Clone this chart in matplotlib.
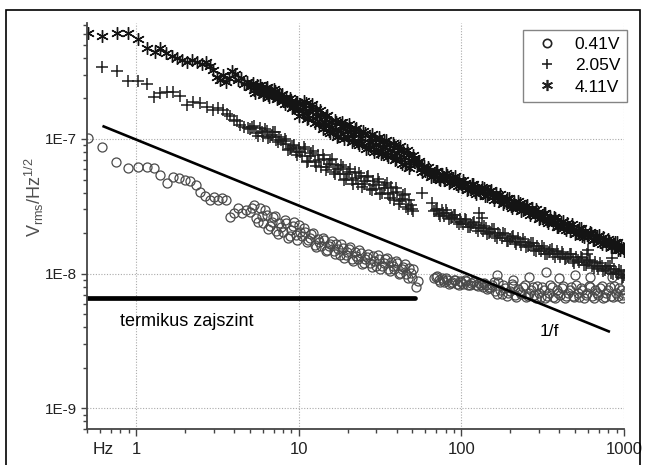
import matplotlib
matplotlib.use("Agg")
import matplotlib.pyplot as plt
import numpy as np
from matplotlib.lines import Line2D
from matplotlib.ticker import FixedLocator, FixedFormatter, LogLocator, NullFormatter

plt.rcParams["font.family"] = ["Liberation Sans", "DejaVu Sans"]
plt.rcParams["mathtext.fontset"] = "custom"
plt.rcParams["mathtext.rm"] = "Liberation Sans"
plt.rcParams["mathtext.it"] = "Liberation Sans:italic"

# noise spectra, frequency in Hz, amplitude in units of 1e-8 V/Hz^1/2
f_041 = [0.505, 0.62, 0.75, 0.89, 1.02, 1.17, 1.29, 1.40, 1.55, 1.68, 1.83, 1.99, 2.14, 2.33,
         2.47, 2.64, 2.84, 3.0, 3.18, 3.37, 3.56, 3.77, 3.99, 4.21, 4.46, 4.72,
         5.0, 5.3, 5.6, 5.9, 6.2, 6.5, 6.8, 7.1, 7.4, 7.8, 8.2, 8.6, 9.0, 9.4, 9.8,
         10.2, 10.7, 11.2, 11.7, 12.2, 12.8, 13.4, 14, 14.6, 15.3, 16, 16.7, 17.4, 18.2,
         19, 19.8, 20.7, 21.6, 22.6, 23.6, 24.6, 25.7, 26.8, 28, 29.2, 30.5, 31.8, 33.2,
         34.7, 36.2, 37.8, 39.4, 41.1, 42.9, 44.8, 46.7, 48.7, 50.5, 52.5, 54,
         68, 71, 74, 77, 80, 84, 88, 92, 96, 100, 105, 110, 115, 120, 126, 132, 138, 144,
         151, 158, 165, 173, 181, 190, 199, 208, 218, 228, 239, 250, 262, 274, 287, 300,
         314, 329, 344, 360, 377, 395, 413, 432, 452, 473, 495, 518, 542, 567, 594, 621,
         650, 680, 712, 745, 780, 816, 854, 894, 935, 978, 1000,
         165, 208, 262, 330, 400, 500, 620, 850]
v_041 = [10.2, 8.77, 6.78, 6.12, 6.2, 6.2, 6.12, 5.43, 4.73, 5.25, 5.15, 4.99, 4.84, 4.58,
         4.06, 3.79, 3.54, 3.7, 3.54, 3.65, 3.54, 2.64, 2.83, 3.08, 2.83, 2.99,
         2.87, 3.24, 2.41, 2.70, 2.97, 2.15, 2.40, 2.68, 1.97, 2.21, 2.50, 1.85, 2.11, 2.40, 1.79,
         2.04, 2.19, 1.72, 1.85, 1.99, 1.58, 1.71, 1.85, 1.48, 1.61, 1.75, 1.40, 1.52, 1.65,
         1.31, 1.44, 1.57, 1.25, 1.36, 1.49, 1.18, 1.29, 1.41, 1.13, 1.245, 1.37, 1.09, 1.195,
         1.31, 1.05, 1.15, 1.25, 1.00, 1.09, 1.18, 0.936, 1.02, 1.08, 0.80, 0.88,
         0.930, 0.957, 0.874, 0.900, 0.926, 0.837, 0.868, 0.900, 0.828, 0.861, 0.893, 0.823,
         0.855, 0.881, 0.804, 0.827, 0.850, 0.775, 0.796, 0.861, 0.708, 0.757, 0.827, 0.687,
         0.742, 0.812, 0.675, 0.732, 0.801, 0.666, 0.720, 0.792, 0.662, 0.715, 0.790, 0.665,
         0.722, 0.795, 0.660, 0.718, 0.788, 0.664, 0.716, 0.794, 0.668, 0.721, 0.789, 0.662,
         0.718, 0.792, 0.665, 0.714, 0.786, 0.660, 0.719, 0.793, 0.666, 0.722, 0.788, 0.664,
         0.715,
         0.98, 0.90, 0.95, 1.03, 0.93, 0.98, 0.95, 0.95]
# in-between sweep points of the same run
f_041_b = [5.15, 5.45, 5.75, 6.05, 6.35, 6.65, 6.95, 7.25, 7.6, 8.0, 8.4, 8.8, 9.2, 9.6, 10.0,
           10.45, 10.95, 11.45, 11.95, 12.5, 13.1, 13.7, 14.3, 14.95, 15.65, 16.35, 17.05,
           17.8, 18.6, 19.4, 20.25, 21.15, 22.1, 23.1, 24.1, 25.15, 26.25, 27.4, 28.6, 29.85,
           31.15, 32.5, 33.95, 35.45, 37.0, 38.6, 40.25, 42.0, 43.85, 45.75, 47.7, 49.6,
           69.5, 72.5, 75.5, 78.5, 82, 86, 90, 94, 98, 102.5, 107.5, 112.5, 117.5, 123, 129,
           135, 141, 147.5, 154.5, 161.5, 169, 177, 185.5, 194.5, 203.5, 213, 223, 233.5,
           244.5, 256, 268, 280.5, 293.5, 307, 321.5, 336.5, 352, 368.5, 386, 404, 422.5,
           442, 462.5, 484, 506.5, 530, 554.5, 580.5, 607.5, 635.5, 665, 696, 728.5, 762.5,
           798, 835, 874, 914.5, 956.5, 990]
v_041_b = [3.05, 2.60, 3.05, 2.39, 2.71, 2.25, 2.62, 2.07, 2.39, 2.04, 2.39, 1.91, 2.25, 1.93,
           2.28, 1.90, 2.04, 1.79, 1.97, 1.63, 1.82, 1.61, 1.79, 1.49, 1.67, 1.48, 1.65, 1.38,
           1.55, 1.38, 1.53, 1.29, 1.44, 1.28, 1.43, 1.20, 1.34, 1.20, 1.35, 1.14, 1.28, 1.14,
           1.29, 1.08, 1.22, 1.08, 1.21, 1.01, 1.13, 1.00, 1.11, 0.93,
           0.949, 0.902, 0.937, 0.873, 0.903, 0.853, 0.894, 0.839, 0.879, 0.843, 0.884, 0.830,
           0.869, 0.826, 0.857, 0.797, 0.828, 0.786, 0.830, 0.746, 0.862, 0.710, 0.788, 0.715,
           0.837, 0.693, 0.771, 0.701, 0.822, 0.681, 0.756, 0.691, 0.814, 0.677, 0.752, 0.688,
           0.820, 0.672, 0.760, 0.695, 0.808, 0.680, 0.751, 0.686, 0.818, 0.674, 0.761, 0.690,
           0.811, 0.679, 0.754, 0.693, 0.816, 0.671, 0.758, 0.684, 0.812, 0.678, 0.755, 0.692]

f_205 = [0.62, 0.76, 0.89, 1.02, 1.17, 1.29, 1.40, 1.55, 1.68, 1.86, 2.05, 2.23, 2.47, 2.71,
         2.96, 3.18, 3.41, 3.62, 3.77, 3.99, 4.17, 4.34, 4.60, 4.87,
         5.0, 5.3, 5.6, 5.9, 6.2, 6.5, 6.8, 7.1, 7.4, 7.8, 8.2, 8.6, 9.0, 9.4, 9.8,
         10.2, 10.7, 11.2, 11.7, 12.2, 12.8, 13.4, 14, 14.6, 15.3, 16, 16.7, 17.4, 18.2,
         19, 19.8, 20.7, 21.6, 22.6, 23.6, 24.6, 25.7, 26.8, 28, 29.2, 30.5, 31.8, 33.2,
         34.7, 36.2, 37.8, 39.4, 41.1, 42.9, 44.8, 46.7, 48.7, 50.5, 57, 66,
         68, 71, 74, 77, 80, 84, 88, 92, 96, 100, 105, 110, 115, 120, 126, 132, 138, 144,
         151, 158, 165, 173, 181, 190, 199, 208, 218, 228, 239, 250, 262, 274, 287, 300,
         314, 329, 344, 360, 377, 395, 413, 432, 452, 473, 495, 518, 542, 567, 594, 621,
         650, 680, 712, 745, 780, 816, 854, 894, 935, 978, 1000,
         129, 133, 590, 600, 850]
v_205 = [34.5, 31.7, 27.1, 27.1, 25.8, 20.6, 22.1, 22.4, 22.4, 21.0, 18.0, 18.9, 18.6, 17.4,
         16.5, 17.1, 16.5, 15.4, 14.7, 13.9, 13.5, 12.8, 12.3, 12.1,
         11.9, 12.5, 10.6, 11.2, 11.8, 10.1, 10.7, 11.2, 9.53, 9.75, 10.0, 8.32, 8.61, 8.97, 7.59,
         8.0, 8.74, 6.78, 7.47, 8.21, 6.35, 6.95, 7.59, 5.92, 6.48, 7.09, 5.46, 5.97, 6.46,
         4.98, 5.46, 5.99, 4.67, 5.13, 5.63, 4.40, 4.84, 5.32, 4.15, 4.56, 5.01, 3.92, 4.31,
         4.73, 3.63, 3.96, 4.31, 3.31, 3.60, 3.90, 3.00, 3.26, 2.94, 3.99, 3.36,
         2.90, 3.04, 2.67, 2.81, 2.95, 2.55, 2.64, 2.72, 2.35, 2.43, 2.53, 2.21, 2.31, 2.41,
         2.09, 2.18, 2.27, 1.96, 2.05, 2.13, 1.85, 1.93, 2.01, 1.75, 1.82, 1.90, 1.65, 1.73,
         1.80, 1.57, 1.63, 1.70, 1.47, 1.53, 1.60, 1.39, 1.46, 1.53, 1.33, 1.40, 1.46, 1.28,
         1.34, 1.39, 1.21, 1.27, 1.33, 1.16, 1.20, 1.26, 1.10, 1.15, 1.20, 1.05, 1.095, 1.14,
         0.99, 1.035, 1.07, 0.93, 0.98,
         2.8, 2.6, 1.4, 1.5, 1.3]
f_205_b = [5.15, 5.45, 5.75, 6.05, 6.35, 6.65, 6.95, 7.25, 7.6, 8.0, 8.4, 8.8, 9.2, 9.6, 10.0,
           10.45, 10.95, 11.45, 11.95, 12.5, 13.1, 13.7, 14.3, 14.95, 15.65, 16.35, 17.05,
           17.8, 18.6, 19.4, 20.25, 21.15, 22.1, 23.1, 24.1, 25.15, 26.25, 27.4, 28.6, 29.85,
           31.15, 32.5, 33.95, 35.45, 37.0, 38.6, 40.25, 42.0, 43.85, 45.75, 47.7, 49.6,
           69.5, 72.5, 75.5, 78.5, 82, 86, 90, 94, 98, 102.5, 107.5, 112.5, 117.5, 123, 129,
           135, 141, 147.5, 154.5, 161.5, 169, 177, 185.5, 194.5, 203.5, 213, 223, 233.5,
           244.5, 256, 268, 280.5, 293.5, 307, 321.5, 336.5, 352, 368.5, 386, 404, 422.5,
           442, 462.5, 484, 506.5, 530, 554.5, 580.5, 607.5, 635.5, 665, 696, 728.5, 762.5,
           798, 835, 874, 914.5, 956.5, 990]
v_205_b = [12.3, 11.0, 12.0, 10.5, 11.4, 10.4, 11.2, 9.88, 10.4, 9.17, 9.70, 8.36, 8.84, 7.94,
           8.53, 7.43, 8.39, 6.87, 7.84, 6.80, 7.67, 6.24, 7.12, 6.17, 6.98, 5.67, 6.41, 5.52,
           6.21, 5.03, 5.73, 4.98, 5.66, 4.62, 5.29, 4.60, 5.23, 4.29, 4.89, 4.24, 4.83, 3.96,
           4.53, 3.92, 4.38, 3.55, 4.01, 3.44, 3.86, 3.12, 3.51, 3.02,
           2.98, 2.76, 2.96, 2.66, 2.82, 2.59, 2.73, 2.42, 2.53, 2.34, 2.49, 2.23, 2.36, 2.18,
           2.31, 2.06, 2.18, 2.01, 2.13, 1.90, 2.01, 1.85, 1.97, 1.76, 1.86, 1.72, 1.83, 1.64,
           1.73, 1.60, 1.69, 1.51, 1.60, 1.47, 1.56, 1.40, 1.49, 1.39, 1.48, 1.34, 1.41, 1.31,
           1.40, 1.24, 1.32, 1.22, 1.30, 1.17, 1.24, 1.14, 1.22, 1.09, 1.15, 1.07, 1.14, 1.02,
           1.08, 0.99, 1.05, 0.94]

f_411 = [0.505, 0.62, 0.76, 0.89, 1.02, 1.17, 1.30, 1.40, 1.52, 1.66, 1.78, 1.91, 2.05, 2.19,
         2.36, 2.53, 2.68, 2.83, 2.95, 3.13, 3.27, 3.41, 3.56, 3.72, 3.88, 4.04, 4.21, 4.40,
         4.58, 4.78,
         5.0, 5.2, 5.4, 5.6, 5.8, 6.0, 6.2, 6.4, 6.6, 6.8, 7.0, 7.3, 7.6, 7.9, 8.2, 8.5, 8.8,
         9.1, 9.4, 9.7, 10, 10.4, 10.8, 11.2, 11.6, 12, 12.5, 13, 13.5, 14, 14.5, 15, 15.5,
         16, 16.6, 17.2, 17.8, 18.4, 19, 19.7, 20.4, 21.1, 21.8, 22.6, 23.4, 24.2, 25, 26,
         27, 28, 29, 30, 31, 32, 33, 34.2, 35.4, 36.6, 37.8, 39, 40.4, 41.8, 43.2, 44.6, 46,
         47.6, 49.2, 51,
         53, 55, 57.5, 60, 62.5, 65, 68, 71, 74, 77, 80, 83.5, 87, 91, 95, 99, 103, 108, 113,
         118, 123, 128, 134, 140, 146, 152, 159, 166, 173, 180, 188, 196, 205, 214, 223, 233,
         243, 254, 265, 276, 288, 300, 313, 327, 341, 356, 371, 387, 404, 421, 439, 458, 478,
         499, 520, 543, 566, 591, 616, 643, 671, 700, 730, 762, 795, 829, 865, 902, 941, 980]
v_411 = [61.7, 58.6, 60.7, 60.7, 55.7, 47.7, 44.6, 47.7, 43.8, 41.6, 40.2, 38.8, 37.6, 38.8,
         37.6, 36.3, 37.6, 35.1, 32.7, 29.0, 27.6, 30.0, 26.7, 28.6, 31.7, 30.6, 27.6, 28.6,
         25.8, 26.7,
         24.5, 26.1, 22.1, 23.5, 25.1, 21.3, 22.7, 24.3, 20.6, 22.0, 23.4, 19.8, 20.9, 21.6,
         18.1, 19.2, 20.2, 17.0, 17.8, 18.8, 14.9, 16.8, 19.0, 14.1, 16.0, 18.1, 13.2, 14.7,
         16.3, 11.9, 13.4, 15.0, 11.0, 12.3, 13.9, 10.4, 11.7, 13.3, 10.0, 11.4, 12.9, 9.57,
         10.8, 12.1, 8.96, 10.1, 11.4, 8.44, 9.55, 10.8, 8.0, 9.07, 10.3, 7.68, 8.71, 9.87,
         7.33, 8.29, 9.37, 6.96, 7.86, 8.83, 6.53, 7.31, 8.22, 6.09, 6.85, 7.24,
         6.55, 6.91, 5.67, 5.81, 6.17, 5.23, 5.51, 5.83, 4.94, 5.23, 5.56, 4.71, 4.97, 5.27,
         4.44, 4.67, 4.97, 4.18, 4.39, 4.64, 3.93, 4.17, 4.42, 3.75, 3.96, 4.21, 3.54, 3.72,
         3.93, 3.31, 3.48, 3.67, 3.09, 3.26, 3.46, 2.91, 3.07, 3.25, 2.73, 2.87, 3.02, 2.55,
         2.68, 2.83, 2.38, 2.50, 2.64, 2.22, 2.33, 2.48, 2.10, 2.22, 2.34, 1.97, 2.08, 2.20,
         1.86, 1.95, 2.04, 1.78, 1.85, 1.93, 1.67, 1.74, 1.80, 1.57, 1.64, 1.71, 1.49, 1.55]
f_411_b = [5.1, 5.3, 5.5, 5.7, 5.9, 6.1, 6.3, 6.5, 6.7, 6.9, 7.15, 7.45, 7.75, 8.05, 8.35, 8.65,
           8.95, 9.25, 9.55, 9.85, 10.2, 10.6, 11.0, 11.4, 11.8, 12.25, 12.75, 13.25, 13.75,
           14.25, 14.75, 15.25, 15.75, 16.3, 16.9, 17.5, 18.1, 18.7, 19.35, 20.05, 20.75,
           21.45, 22.2, 23.0, 23.8, 24.6, 25.5, 26.5, 27.5, 28.5, 29.5, 30.5, 31.5, 32.5,
           33.6, 34.8, 36.0, 37.2, 38.4, 39.7, 41.1, 42.5, 43.9, 45.3, 46.8, 48.4, 50.1,
           54, 56.2, 58.7, 61.2, 63.7, 66.5, 69.5, 72.5, 75.5, 78.5, 81.7, 85.2, 89, 93, 97,
           101, 105.5, 110.5, 115.5, 120.5, 125.5, 131, 137, 143, 149, 155.5, 162.5, 169.5,
           176.5, 184, 192, 200.5, 209.5, 218.5, 228, 238, 248.5, 259.5, 270.5, 282, 294,
           306.5, 320, 334, 348.5, 363.5, 379, 395.5, 412.5, 430, 448.5, 468, 488.5, 509.5,
           531.5, 554.5, 578.5, 603.5, 629.5, 657, 685.5, 715, 746, 778.5, 812, 847, 883.5,
           921.5, 960.5, 995]
v_411_b = [25.3, 23.0, 25.1, 22.2, 24.0, 21.9, 24.0, 21.3, 23.0, 21.0, 22.8, 20.0, 21.3, 19.0,
           20.6, 18.1, 19.2, 17.4, 18.7, 16.4, 18.2, 15.5, 18.4, 14.3, 17.0, 14.4, 16.8, 12.9,
           15.0, 12.6, 14.8, 11.4, 13.4, 11.3, 13.4, 10.5, 12.5, 10.8, 12.8, 10.1, 11.9, 10.1,
           11.9, 9.26, 10.9, 9.30, 11.0, 8.57, 10.1, 8.65, 10.2, 8.01, 9.51, 8.16, 9.68, 7.57,
           8.95, 7.64, 9.05, 7.06, 8.31, 7.06, 8.30, 6.43, 7.58, 6.44, 7.59,
           6.73, 6.03, 6.31, 5.48, 5.90, 5.35, 5.78, 5.09, 5.49, 4.98, 5.42, 4.77, 5.13, 4.64,
           5.00, 4.41, 4.72, 4.26, 4.61, 4.06, 4.37, 3.96, 4.30, 3.80, 4.09, 3.71, 3.99, 3.50,
           3.74, 3.38, 3.65, 3.19, 3.42, 3.10, 3.35, 2.95, 3.16, 2.85, 3.08, 2.70, 2.88, 2.60,
           2.81, 2.46, 2.63, 2.37, 2.57, 2.24, 2.41, 2.19, 2.37, 2.08, 2.24, 2.02, 2.18, 1.92,
           2.06, 1.86, 2.01, 1.78, 1.91, 1.73, 1.87, 1.63, 1.75, 1.58, 1.72, 1.51, 1.62, 1.47]

# guide lines
one_over_f_f = [0.62, 820]
one_over_f_v = [1.25e-7, 3.7e-9]
thermal_f = [0.5, 52]
thermal_v = [6.6e-9, 6.6e-9]

series_labels = ["0.41V", "2.05V", "4.11V"]
x_ticks = [1, 10, 100, 1000]
x_tick_labels = ["1", "10", "100", "1000"]
y_ticks = [1e-9, 1e-8, 1e-7]
y_tick_labels = ["1E-9", "1E-8", "1E-7"]

ASTER = (6, 2, 0)
axis_col = "#444444"

fig = plt.figure(figsize=(6.45, 4.65), dpi=100)
ax = fig.add_axes([0.1353, 0.0768, 0.8321, 0.8744])

e8 = 1e-8
circle_kw = dict(ls="none", marker="o", ms=6.5, mfc="none", mec="#4a4a4a", mew=0.9)
plus_kw = dict(ls="none", marker="+", ms=8, mec="#1e1e1e", mew=1.1)
aster_kw = dict(ls="none", marker=ASTER, ms=9, mec="#141414", mew=1.0)

ax.plot(f_041, np.array(v_041) * e8, **circle_kw)
ax.plot(f_041_b, np.array(v_041_b) * e8, **circle_kw)
ax.plot(f_205, np.array(v_205) * e8, **plus_kw)
ax.plot(f_205_b, np.array(v_205_b) * e8, **plus_kw)
ax.plot(f_411, np.array(v_411) * e8, **aster_kw)
ax.plot(f_411_b, np.array(v_411_b) * e8, **aster_kw)

ax.plot(one_over_f_f, one_over_f_v, color="black", lw=1.9, solid_capstyle="butt")
ax.plot(thermal_f, thermal_v, color="black", lw=3.4, solid_capstyle="round")

ax.set_xscale("log")
ax.set_yscale("log")
ax.set_xlim(0.5, 1000)
ax.set_ylim(7.0e-10, 7.3e-7)

ax.xaxis.set_major_locator(FixedLocator(x_ticks))
ax.xaxis.set_major_formatter(FixedFormatter(x_tick_labels))
ax.xaxis.set_minor_locator(LogLocator(base=10, subs=np.arange(2, 10)))
ax.xaxis.set_minor_formatter(NullFormatter())
ax.yaxis.set_major_locator(FixedLocator(y_ticks))
ax.yaxis.set_major_formatter(FixedFormatter(y_tick_labels))
ax.yaxis.set_minor_locator(LogLocator(base=10, subs=np.arange(2, 10)))
ax.yaxis.set_minor_formatter(NullFormatter())

for s in ["top", "right"]:
    ax.spines[s].set_visible(False)
for s in ["left", "bottom"]:
    ax.spines[s].set_color(axis_col)
    ax.spines[s].set_linewidth(1.3)

ax.tick_params(axis="x", which="major", direction="out", length=5, width=1.0,
               color=axis_col, labelsize=12, pad=4, labelcolor="#222222")
ax.tick_params(axis="x", which="minor", direction="out", length=3, width=1.0, color=axis_col)
ax.tick_params(axis="y", which="major", direction="out", length=4.5, width=1.0,
               color=axis_col, labelsize=11, pad=3, labelcolor="#222222")
ax.tick_params(axis="y", which="minor", direction="out", length=3, width=1.0, color=axis_col)

ax.grid(True, which="major", ls=(0, (1, 1.5)), color="#aaaaaa", lw=0.8)
ax.set_axisbelow(True)

ax.set_ylabel(r"V$_{\rm rms}$/Hz$^{1/2}$", fontsize=13, color="#505050")
ax.yaxis.set_label_coords(-0.077, 0.57)

ax.text(0.63, -0.031, "Hz", transform=ax.get_xaxis_transform(), ha="center", va="top",
        fontsize=12.5, color="#222222")
ax.text(0.79, 4.4e-9, "termikus zajszint", fontsize=13, ha="left", va="center")
ax.text(350, 3.7e-9, "1/f", fontsize=12.5, ha="center", va="center")

handles = [
    Line2D([], [], ls="none", marker="o", ms=6, mfc="none", mec="#222222", mew=1.2),
    Line2D([], [], ls="none", marker="+", ms=7, mec="#222222", mew=1.2),
    Line2D([], [], ls="none", marker=ASTER, ms=8, mec="#222222", mew=1.2),
]
leg = ax.legend(handles, series_labels, loc="upper right", bbox_to_anchor=(1.006, 0.982),
                borderaxespad=0, fontsize=12.5, frameon=True, fancybox=False,
                handlelength=2.0, handletextpad=0.6, labelspacing=0.35, borderpad=0.4)
leg.get_frame().set_edgecolor("#666666")
leg.get_frame().set_linewidth(1.0)

fig.add_artist(plt.Rectangle((6 / 645, -0.01), 634 / 645, 1.01 - 10 / 465,
                             transform=fig.transFigure, fill=False, lw=1.2, ec="black"))

fig.savefig("out.png", dpi=100)
